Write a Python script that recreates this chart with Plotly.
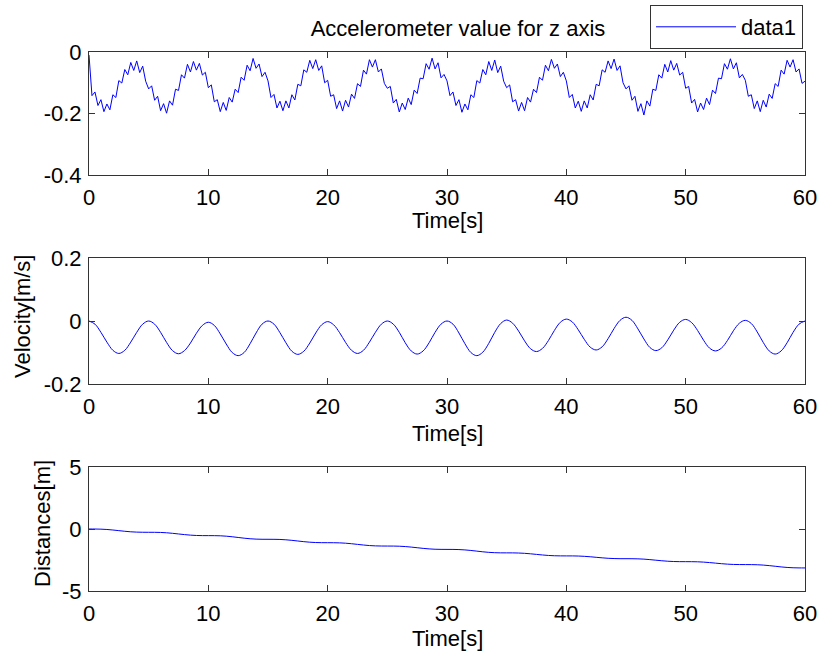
import numpy as np
import plotly.graph_objects as go
from plotly.subplots import make_subplots

# ---------------- data ----------------
# Accelerometer z-axis, sampled every 0.25 s from 0 to 60 s
acc_t_step = 0.25
acc_z = [
    # 0 - 4.75 s
    -0.010, -0.142, -0.130, -0.174, -0.155, -0.194, -0.169, -0.188, -0.139, -0.148,
    -0.093, -0.101, -0.057, -0.074, -0.034, -0.060, -0.029, -0.067, -0.046, -0.095,
    # 5 - 9.75 s
    -0.120, -0.110, -0.157, -0.144, -0.191, -0.168, -0.199, -0.159, -0.173, -0.121,
    -0.125, -0.074, -0.085, -0.040, -0.065, -0.031, -0.059, -0.037, -0.075, -0.066,
    # 10 - 14.75 s
    -0.116, -0.107, -0.162, -0.155, -0.194, -0.164, -0.190, -0.148, -0.163, -0.121,
    -0.132, -0.082, -0.092, -0.043, -0.061, -0.021, -0.053, -0.039, -0.080, -0.066,
    # 15 - 19.75 s
    -0.094, -0.148, -0.138, -0.182, -0.160, -0.191, -0.159, -0.182, -0.139, -0.156,
    -0.105, -0.110, -0.058, -0.066, -0.027, -0.054, -0.025, -0.060, -0.045, -0.100,
    # 20 - 24.75 s
    -0.092, -0.144, -0.139, -0.184, -0.159, -0.192, -0.157, -0.179, -0.137, -0.151,
    -0.103, -0.112, -0.059, -0.072, -0.025, -0.049, -0.025, -0.065, -0.055, -0.102,
    # 25 - 29.75 s
    -0.118, -0.112, -0.166, -0.154, -0.195, -0.166, -0.187, -0.150, -0.171, -0.124,
    -0.135, -0.085, -0.087, -0.038, -0.056, -0.020, -0.055, -0.035, -0.084, -0.073,
    # 30 - 34.75 s
    -0.094, -0.142, -0.130, -0.174, -0.155, -0.196, -0.169, -0.188, -0.139, -0.148,
    -0.093, -0.101, -0.057, -0.074, -0.031, -0.060, -0.026, -0.067, -0.046, -0.095,
    # 35 - 39.75 s
    -0.116, -0.107, -0.162, -0.155, -0.192, -0.164, -0.191, -0.148, -0.163, -0.121,
    -0.132, -0.082, -0.092, -0.043, -0.061, -0.024, -0.053, -0.039, -0.080, -0.066,
    # 40 - 44.75 s
    -0.094, -0.148, -0.138, -0.182, -0.160, -0.193, -0.159, -0.182, -0.139, -0.156,
    -0.105, -0.110, -0.058, -0.066, -0.029, -0.054, -0.023, -0.060, -0.045, -0.100,
    # 45 - 49.75 s
    -0.120, -0.110, -0.157, -0.144, -0.193, -0.168, -0.205, -0.159, -0.176, -0.121,
    -0.125, -0.074, -0.085, -0.040, -0.065, -0.028, -0.059, -0.037, -0.075, -0.066,
    # 50 - 54.75 s
    -0.118, -0.112, -0.166, -0.154, -0.195, -0.166, -0.187, -0.150, -0.171, -0.124,
    -0.135, -0.085, -0.087, -0.038, -0.056, -0.022, -0.055, -0.035, -0.084, -0.073,
    # 55 - 59.75 s
    -0.092, -0.144, -0.139, -0.184, -0.159, -0.194, -0.157, -0.179, -0.137, -0.151,
    -0.103, -0.112, -0.059, -0.072, -0.027, -0.049, -0.025, -0.065, -0.055, -0.102,
    # 60 s
    -0.095,
]

# Velocity [m/s], sampled every 0.5 s from 0 to 60 s
vel_t_step = 0.5
velocity = [
    0.000, -0.010, -0.036, -0.067, -0.093, -0.103, -0.093, -0.067, -0.036, -0.010,
    0.000, -0.010, -0.036, -0.068, -0.094, -0.104, -0.094, -0.070, -0.039, -0.014,
    -0.004, -0.014, -0.041, -0.073, -0.100, -0.110, -0.100, -0.072, -0.038, -0.010,
    0.000, -0.010, -0.037, -0.069, -0.096, -0.106, -0.096, -0.070, -0.038, -0.012,
    -0.002, -0.012, -0.037, -0.068, -0.093, -0.103, -0.093, -0.067, -0.036, -0.010,
    0.000, -0.010, -0.036, -0.069, -0.095, -0.105, -0.095, -0.069, -0.036, -0.010,
    0.000, -0.010, -0.038, -0.072, -0.100, -0.110, -0.099, -0.071, -0.036, -0.008,
    0.003, -0.007, -0.032, -0.063, -0.088, -0.097, -0.087, -0.062, -0.030, -0.004,
    0.006, -0.003, -0.028, -0.058, -0.083, -0.092, -0.082, -0.056, -0.024, 0.002,
    0.012, 0.002, -0.025, -0.057, -0.084, -0.094, -0.085, -0.060, -0.029, -0.004,
    0.005, -0.005, -0.030, -0.061, -0.086, -0.095, -0.086, -0.062, -0.031, -0.007,
    0.002, -0.008, -0.035, -0.068, -0.095, -0.105, -0.095, -0.069, -0.036, -0.010,
    0.000,
]

# Distance [m], sampled every 0.5 s from 0 to 60 s
dist_t_step = 0.5
distance = [
    0.000, -0.002, -0.013, -0.039, -0.081, -0.133, -0.184, -0.226, -0.252, -0.263,
    -0.265, -0.267, -0.278, -0.305, -0.348, -0.400, -0.452, -0.495, -0.522, -0.533,
    -0.535, -0.537, -0.549, -0.579, -0.625, -0.683, -0.740, -0.786, -0.816, -0.828,
    -0.830, -0.832, -0.843, -0.871, -0.914, -0.968, -1.021, -1.064, -1.092, -1.103,
    -1.105, -1.107, -1.118, -1.145, -1.188, -1.240, -1.292, -1.335, -1.362, -1.373,
    -1.375, -1.377, -1.388, -1.415, -1.458, -1.510, -1.562, -1.605, -1.632, -1.643,
    -1.645, -1.647, -1.659, -1.687, -1.731, -1.785, -1.839, -1.883, -1.911, -1.923,
    -1.925, -1.927, -1.937, -1.961, -2.000, -2.048, -2.095, -2.134, -2.158, -2.168,
    -2.170, -2.171, -2.181, -2.203, -2.239, -2.283, -2.326, -2.362, -2.384, -2.394,
    -2.395, -2.397, -2.407, -2.431, -2.469, -2.515, -2.561, -2.599, -2.623, -2.633,
    -2.635, -2.637, -2.646, -2.670, -2.707, -2.753, -2.798, -2.835, -2.859, -2.868,
    -2.870, -2.872, -2.883, -2.910, -2.953, -3.005, -3.057, -3.100, -3.127, -3.138,
    -3.140,
]

x_ticks = [0, 10, 20, 30, 40, 50, 60]
acc_ticks = [-0.4, -0.2, 0]
vel_ticks = [-0.2, 0, 0.2]
dist_ticks = [-5, 0, 5]

title_text = "Accelerometer value for z axis"
x_title = "Time[s]"
vel_title = "Velocity[m/s]"
dist_title = "Distances[m]"
legend_name = "data1"

# ---------------- figure ----------------
t_acc = np.arange(len(acc_z)) * acc_t_step
t_vel = np.arange(len(velocity)) * vel_t_step
t_dist = np.arange(len(distance)) * dist_t_step

W, H = 820, 653
PL, PR, PT, PB = 89, 805, 52, 591          # plot block in window pixels
ml, mr, mt, mb = PL, W - PR, PT, H - PB
pw, ph = PR - PL, PB - PT


def py(ypx):                      # window y pixel -> paper y
    return (PB - ypx) / ph


def px(xpx):                      # window x pixel -> paper x
    return (xpx - PL) / pw


def dom(top_px, bot_px):
    return [py(bot_px), py(top_px)]


fig = make_subplots(rows=3, cols=1)

fig.add_trace(go.Scatter(x=t_acc, y=acc_z, mode="lines",
                         line=dict(color="#0000FF", width=1),
                         name=legend_name, showlegend=True), row=1, col=1)
fig.add_trace(go.Scatter(x=t_vel, y=velocity, mode="lines",
                         line=dict(color="#0000FF", width=1, shape="spline"),
                         showlegend=False), row=2, col=1)
fig.add_trace(go.Scatter(x=t_dist, y=distance, mode="lines",
                         line=dict(color="#0000FF", width=1, shape="spline"),
                         showlegend=False), row=3, col=1)

font_family = "Liberation Sans, Arial, Helvetica, sans-serif"
fs = 22
axcol = "#333333"

common_x = dict(range=[0, 60], tickvals=x_ticks, ticks="inside", ticklen=6,
                tickcolor=axcol, showline=True, linecolor=axcol, linewidth=1,
                mirror="ticks", showgrid=False, zeroline=False,
                tickfont=dict(size=fs, color="#000"), ticklabelstandoff=3,
                ticklabeloverflow="allow")
common_y = dict(ticks="inside", ticklen=6, tickcolor=axcol, showline=True,
                linecolor=axcol, linewidth=1, mirror="ticks", showgrid=False,
                zeroline=False, tickfont=dict(size=fs, color="#000"),
                ticklabelstandoff=2)

boxes = [(52, 175), (258, 384), (467, 591)]

fig.update_layout(
    width=W, height=H,
    margin=dict(l=ml, r=mr, t=mt, b=mb, autoexpand=False),
    paper_bgcolor="white", plot_bgcolor="white",
    font=dict(family=font_family, size=fs, color="#000"),
    title=dict(text=title_text, x=458 / W, xref="container", xanchor="center",
               y=1 - 28 / H, yref="container", yanchor="middle",
               font=dict(size=fs, color="#000")),
    showlegend=True,
    legend=dict(x=px(803), xanchor="right", xref="paper",
                y=py(5), yanchor="top", yref="paper",
                bordercolor="#333333", borderwidth=1, bgcolor="white",
                font=dict(size=fs, color="#000"), itemwidth=80,
                tracegroupgap=0),
    hovermode=False,
)

for i in range(3):
    xa = "xaxis" if i == 0 else f"xaxis{i+1}"
    ya = "yaxis" if i == 0 else f"yaxis{i+1}"
    fig.layout[xa].update(**common_x)
    fig.layout[xa].domain = [0, 1]
    fig.layout[ya].update(**common_y)
    fig.layout[ya].domain = dom(*boxes[i])

fig.layout.yaxis.update(range=[-0.4, 0], tickvals=acc_ticks, ticktext=["-0.4", "-0.2", "0"])
fig.layout.yaxis2.update(range=[-0.2, 0.2], tickvals=vel_ticks, ticktext=["-0.2", "0", "0.2"])
fig.layout.yaxis3.update(range=[-5, 5], tickvals=dist_ticks, ticktext=["-5", "0", "5"])

# axis titles placed as in the reference
for ycen in (220, 434, 638):
    fig.add_annotation(text=x_title, xref="paper", yref="paper", x=0.5, y=py(ycen),
                       xanchor="center", yanchor="middle", showarrow=False,
                       font=dict(size=fs, color="#000"))
fig.add_annotation(text=vel_title, xref="paper", yref="paper", x=px(22), y=py(317),
                   xanchor="center", yanchor="middle", textangle=-90, showarrow=False,
                   font=dict(size=fs, color="#000"))
fig.add_annotation(text=dist_title, xref="paper", yref="paper", x=px(42), y=py(524),
                   xanchor="center", yanchor="middle", textangle=-90, showarrow=False,
                   font=dict(size=fs, color="#000"))

# remove the default 8 px page margin so the figure fills the window exactly
fig.write_html("out.html",
               config={"displayModeBar": False, "staticPlot": True},
               post_script="document.body.style.margin='0px';"
                           "document.body.style.overflow='hidden';")
